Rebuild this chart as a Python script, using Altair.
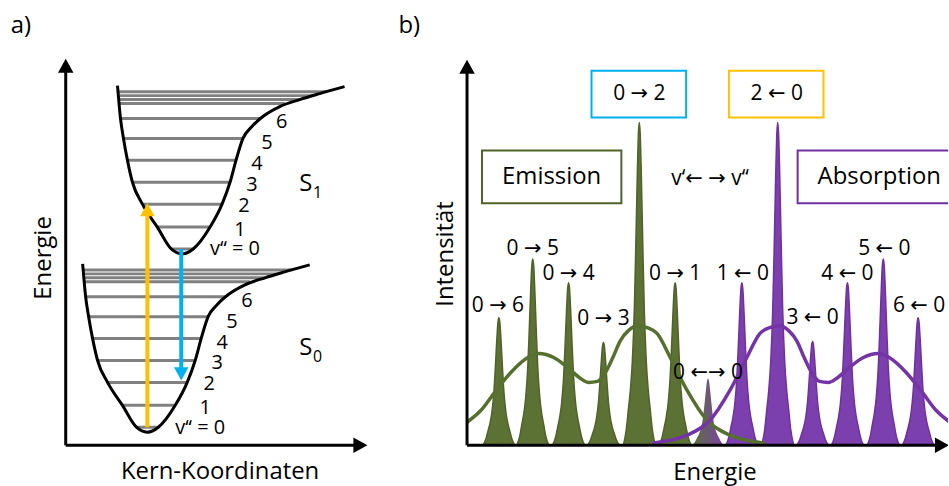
import altair as alt
import pandas as pd

FONT = "Open Sans, DejaVu Sans"
GREEN = "#4F6228"
GREEN_FILL = "#5C7234"
GREEN_LINE = "#56702F"
PURPLE = "#7030A0"
PURPLE_FILL = "#7B3FAE"
PURPLE_LINE = "#7434A6"
YELLOW = "#FFC000"
BLUE = "#00B0F0"
GRAY = "#808080"

# ---------------- panel a: potential curves ----------------
s1_r = [52, 55, 58, 62, 67, 77, 92, 106, 117, 128, 145, 157, 165, 171, 178, 187, 198, 215, 235, 255, 280]
s1_E = [361, 328, 308, 286, 264, 242, 219, 197, 192, 197, 219, 242, 264, 286, 308, 320, 330, 340, 347, 353, 360]
s0_r = [17, 20, 23, 27, 32, 42, 57, 71, 82, 93, 110, 122, 130, 136, 143, 152, 163, 180, 200, 220, 245]
s0_E = [182, 149, 129, 107, 85, 63, 40, 18, 13, 18, 40, 63, 85, 107, 129, 141, 151, 161, 168, 174, 181]

s1_level_E = [197, 219, 242, 264, 286, 308, 328, 343, 347, 351, 355]
s1_level_left = [106, 92, 77, 67, 62, 58, 55, 54, 54, 54, 53]
s1_level_right = [128, 145, 157, 165, 171, 178, 196, 220, 235, 248, 262]
s0_level_E = [18, 40, 63, 85, 107, 129, 149, 164, 168, 172, 176]
s0_level_left = [71, 57, 42, 32, 27, 23, 20, 19, 19, 19, 18]
s0_level_right = [93, 110, 122, 130, 136, 143, 161, 185, 200, 213, 227]

vib_labels = ["v‘‘ = 0", "1", "2", "3", "4", "5", "6"]
s1_lab_r = [170, 175, 179, 187, 192, 202, 217]
s1_lab_E = [197, 216, 240, 261, 282, 303, 324]
s0_lab_r = [135, 140, 144, 152, 157, 167, 182]
s0_lab_E = [17, 37, 61, 82, 103, 124, 145]

state_names = ["S", "S"]
state_subs = ["1", "0"]
state_r = [241, 241]
state_E = [262, 98]

trans_kind = ["Absorption", "Emission"]
trans_r = [82, 116]
trans_from = [18, 197]
trans_to = [243, 65]

# ---------------- panel b: spectrum ----------------
peak_kind = ["Emission"] * 6 + ["00"] + ["Absorption"] * 6
peak_center = [32, 66, 102, 137, 173, 209, 242, 276, 312, 347, 382, 418, 453]
peak_height = [128, 187, 163, 103, 324, 163, 67, 163, 324, 104, 163, 187, 128]
profile_dx = [-16, -13, -11, -9, -7, -5, -3.5, -2, -1, 0, 1, 2, 3.5, 5, 7, 9, 11, 13, 16]
profile_rel = [0, 0.05, 0.11, 0.17, 0.26, 0.42, 0.62, 0.84, 0.96, 1, 0.96, 0.84, 0.62, 0.42, 0.26, 0.17, 0.11, 0.05, 0]

em_env_e = [0, 14, 27, 44, 61, 72, 87, 101, 114, 122, 131, 139, 146, 154, 162, 171, 181, 191, 204, 221, 241, 264, 299]
em_env_I = [23, 35, 52, 73, 88, 92, 88, 78, 67, 63, 64, 73, 87, 105, 115, 120, 118, 112, 88, 55, 25, 10, 2]
ab_env_e = [186, 221, 244, 264, 281, 294, 304, 314, 323, 331, 339, 346, 354, 363, 371, 384, 398, 413, 424, 441, 458, 471, 485]
ab_env_I = [2, 10, 25, 55, 88, 112, 118, 120, 115, 105, 87, 73, 64, 63, 67, 78, 88, 92, 88, 73, 52, 35, 23]

peak_text = ["0 → 6", "0 → 5", "0 → 4", "0 → 3", "0 → 1", "0 ←→ 0",
             "1 ← 0", "3 ← 0", "4 ← 0", "5 ← 0", "6 ← 0", "v‘← → v‘‘"]
peak_text_e = [31, 66, 102, 137, 209, 242, 277, 347, 382, 419, 454, 244]
peak_text_I = [140, 197, 172, 127, 172, 72, 172, 128, 172, 197, 140, 267]

box_text = ["0 → 2", "2 ← 0", "Emission", "Absorption"]
box_kind = ["Emission02", "Absorption20", "EmissionBox", "AbsorptionBox"]
box_e1 = [125, 263, 15, 332]
box_e2 = [220, 358, 155, 500]
box_I1 = [329, 329, 243, 243]
box_I2 = [376, 376, 296, 296]
box_text_e = [173, 311, 85, 414]
box_text_I = [353, 353, 269, 269]

# ---------------- scales ----------------
XA = alt.Scale(domain=[-65, 330], nice=False, zero=False)
YA = alt.Scale(domain=[-41, 445], nice=False, zero=False)
XB = alt.Scale(domain=[-71, 483], nice=False, zero=False)
YB = alt.Scale(domain=[-41, 445], nice=False, zero=False)

UP = "M0,0L-0.55,1L0.55,1Z"
DOWN = "M0,0L-0.55,-1L0.55,-1Z"
RIGHT = "M0,0L-1,-0.55L-1,0.55Z"


def xa(f):
    return alt.X(f"{f}:Q", scale=XA, axis=None)


def ya(f):
    return alt.Y(f"{f}:Q", scale=YA, axis=None)


def xb(f):
    return alt.X(f"{f}:Q", scale=XB, axis=None)


def yb(f):
    return alt.Y(f"{f}:Q", scale=YB, axis=None, stack=None)


# ================= panel a =================
lv = pd.DataFrame({"E": s1_level_E + s0_level_E,
                   "left": s1_level_left + s0_level_left,
                   "right": s1_level_right + s0_level_right})
levels = alt.Chart(lv).mark_rule(color=GRAY, strokeWidth=3).encode(
    x=xa("left"), x2="right:Q", y=ya("E"))

cv = pd.DataFrame({"r": s1_r + s0_r, "E": s1_E + s0_E,
                   "state": ["S1"] * len(s1_r) + ["S0"] * len(s0_r),
                   "i": list(range(len(s1_r))) + list(range(len(s0_r)))})
curves = alt.Chart(cv).mark_line(color="black", strokeWidth=3, interpolate="monotone").encode(
    x=xa("r"), y=ya("E"), detail="state:N", order="i:Q")

tr = pd.DataFrame({"kind": trans_kind, "r": trans_r, "E0": trans_from, "E1": trans_to})
tr["Eline"] = [t - 12 if t > f else t + 12 for f, t in zip(trans_from, trans_to)]
tcolor = alt.Color("kind:N", scale=alt.Scale(domain=["Absorption", "Emission"], range=[YELLOW, BLUE]), legend=None)
trans_lines = alt.Chart(tr).mark_rule(strokeWidth=4).encode(
    x=xa("r"), y=ya("E0"), y2="Eline:Q", color=tcolor)
trans_heads = alt.Chart(tr).mark_point(filled=True, size=700, opacity=1, strokeWidth=0).encode(
    x=xa("r"), y=ya("E1"), color=tcolor,
    shape=alt.Shape("kind:N", scale=alt.Scale(domain=["Absorption", "Emission"], range=[UP, DOWN]), legend=None))

axa = pd.DataFrame({"x1": [0, 0], "y1": [0, 0], "x2": [0, 292], "y2": [376, 0]})
axes_a = alt.Chart(axa).mark_rule(color="black", strokeWidth=3).encode(
    x=xa("x1"), y=ya("y1"), x2="x2:Q", y2="y2:Q")
axa_h = pd.DataFrame({"x": [0, 303], "y": [388, 0], "dir": ["up", "right"]})
heads_a = alt.Chart(axa_h).mark_point(filled=True, size=800, opacity=1, color="black", strokeWidth=0).encode(
    x=xa("x"), y=ya("y"),
    shape=alt.Shape("dir:N", scale=alt.Scale(domain=["up", "right"], range=[UP, RIGHT]), legend=None))

vl = pd.DataFrame({"r": s1_lab_r + s0_lab_r, "E": s1_lab_E + s0_lab_E, "t": vib_labels + vib_labels})
vib_text = alt.Chart(vl).mark_text(font=FONT, fontSize=20, align="center", baseline="middle", color="black").encode(
    x=xa("r"), y=ya("E"), text="t:N")

st = pd.DataFrame({"r": state_r, "E": state_E, "t": state_names, "sub": state_subs})
s_text = alt.Chart(st).mark_text(font=FONT, fontSize=24, align="center", baseline="middle", color="black").encode(
    x=xa("r"), y=ya("E"), text="t:N")
s_sub = alt.Chart(st).mark_text(font=FONT, fontSize=16, align="center", baseline="middle", color="black",
                                dx=12, dy=9).encode(x=xa("r"), y=ya("E"), text="sub:N")

ta = pd.DataFrame({"r": [-22], "E": [188], "t": ["Energie"]})
title_ya = alt.Chart(ta).mark_text(font=FONT, fontSize=24, angle=270, align="center", baseline="middle").encode(
    x=xa("r"), y=ya("E"), text="t:N")
tb = pd.DataFrame({"r": [155, -45], "E": [-27, 421], "t": ["Kern-Koordinaten", "a)"]})
title_xa = alt.Chart(tb).mark_text(font=FONT, fontSize=24, align="center", baseline="middle").encode(
    x=xa("r"), y=ya("E"), text="t:N")

panel_a = alt.layer(levels, curves, trans_lines, trans_heads, axes_a, heads_a,
                    vib_text, s_text, s_sub, title_ya, title_xa).resolve_scale(
    color="independent", shape="independent").properties(width=395, height=486)

# ================= panel b =================
rows = []
for k, (kind, c, h) in enumerate(zip(peak_kind, peak_center, peak_height)):
    for dx, rel in zip(profile_dx, profile_rel):
        rows.append({"peak": k, "kind": kind, "e": c + dx, "I": h * rel, "base": 0})
pk = pd.DataFrame(rows)

em_peaks = alt.Chart(pk[pk.kind == "Emission"]).mark_area(
    color=GREEN_FILL, stroke=GREEN, strokeWidth=1.5, interpolate="monotone").encode(
    x=xb("e"), y=yb("I"), y2="base:Q", detail="peak:N")
ab_peaks = alt.Chart(pk[pk.kind == "Absorption"]).mark_area(
    color=PURPLE_FILL, stroke=PURPLE, strokeWidth=1.5, interpolate="monotone").encode(
    x=xb("e"), y=yb("I"), y2="base:Q", detail="peak:N")
mix_peak = alt.Chart(pk[pk.kind == "00"]).mark_area(
    interpolate="monotone",
    color=alt.Gradient(gradient="linear",
                       stops=[alt.GradientStop(color=GREEN_FILL, offset=0),
                              alt.GradientStop(color=PURPLE_FILL, offset=1)],
                       x1=0, x2=1, y1=0, y2=0)).encode(
    x=xb("e"), y=yb("I"), y2="base:Q", detail="peak:N")

env = pd.DataFrame({"e": em_env_e + ab_env_e, "I": em_env_I + ab_env_I,
                    "kind": ["Emission"] * len(em_env_e) + ["Absorption"] * len(ab_env_e)})
env_lines = alt.Chart(env).mark_line(strokeWidth=3.5, interpolate="monotone", clip=True).encode(
    x=xb("e"), y=yb("I"), detail="kind:N",
    color=alt.Color("kind:N", scale=alt.Scale(domain=["Emission", "Absorption"], range=[GREEN_LINE, PURPLE_LINE]),
                    legend=None))

axb = pd.DataFrame({"x1": [0, 0], "y1": [0, 0], "x2": [0, 474], "y2": [374, 0]})
axes_b = alt.Chart(axb).mark_rule(color="black", strokeWidth=3, clip=True).encode(
    x=xb("x1"), y=yb("y1"), x2="x2:Q", y2="y2:Q")
axb_h = pd.DataFrame({"x": [0, 484], "y": [387, 0], "dir": ["up", "right"]})
heads_b = alt.Chart(axb_h).mark_point(filled=True, size=800, opacity=1, color="black", strokeWidth=0,
                                      clip=True).encode(
    x=xb("x"), y=yb("y"),
    shape=alt.Shape("dir:N", scale=alt.Scale(domain=["up", "right"], range=[UP, RIGHT]), legend=None))

bx = pd.DataFrame({"kind": box_kind, "e1": box_e1, "e2": box_e2, "I1": box_I1, "I2": box_I2,
                   "t": box_text, "te": box_text_e, "tI": box_text_I})
boxes = alt.Chart(bx).mark_rect(filled=False, strokeWidth=2, clip=True).encode(
    x=xb("e1"), x2="e2:Q", y=yb("I1"), y2="I2:Q",
    color=alt.Color("kind:N", scale=alt.Scale(domain=["Emission02", "Absorption20", "EmissionBox", "AbsorptionBox"],
                                              range=[BLUE, YELLOW, GREEN, PURPLE]), legend=None))
box_small = alt.Chart(bx.iloc[:2]).mark_text(font=FONT, fontSize=21, align="center", baseline="middle").encode(
    x=xb("te"), y=yb("tI"), text="t:N")
box_big = alt.Chart(bx.iloc[2:]).mark_text(font=FONT, fontSize=24, align="center", baseline="middle").encode(
    x=xb("te"), y=yb("tI"), text="t:N")

pl = pd.DataFrame({"e": peak_text_e, "I": peak_text_I, "t": peak_text})
peak_labels = alt.Chart(pl).mark_text(font=FONT, fontSize=21, align="center", baseline="middle").encode(
    x=xb("e"), y=yb("I"), text="t:N")

tyb = pd.DataFrame({"e": [-21], "I": [192], "t": ["Intensität"]})
title_yb = alt.Chart(tyb).mark_text(font=FONT, fontSize=24, angle=270, align="center", baseline="middle").encode(
    x=xb("e"), y=yb("I"), text="t:N")
txb = pd.DataFrame({"e": [249, -58], "I": [-28, 421], "t": ["Energie", "b)"]})
title_xb = alt.Chart(txb).mark_text(font=FONT, fontSize=24, align="center", baseline="middle").encode(
    x=xb("e"), y=yb("I"), text="t:N")

panel_b = alt.layer(em_peaks, ab_peaks, mix_peak, env_lines, axes_b, heads_b, boxes,
                    box_small, box_big, peak_labels, title_yb, title_xb).resolve_scale(
    color="independent", shape="independent").properties(width=554, height=486)

chart = alt.hconcat(panel_a, panel_b, spacing=0).properties(
    padding=0, background="white").configure_view(stroke="transparent")

chart.save("out.html", embed_options={"renderer": "svg", "actions": False})
